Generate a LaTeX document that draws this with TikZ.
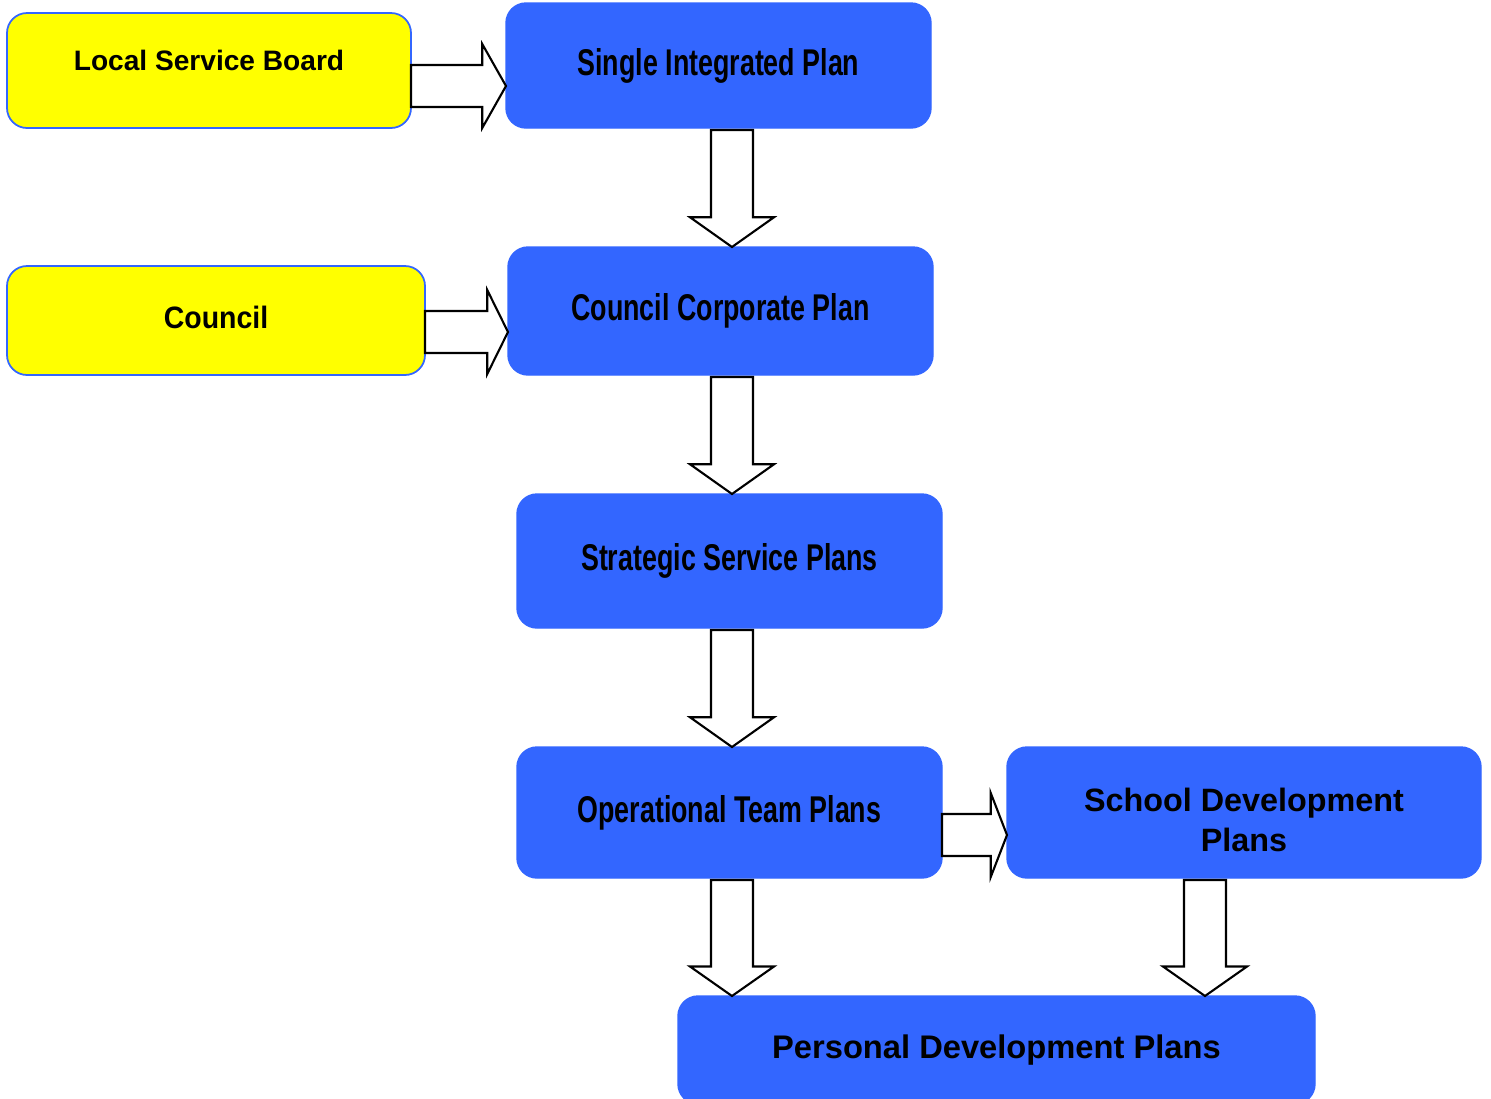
\documentclass[tikz,border=0pt]{standalone}
\usepackage{fontspec}
\setmainfont{Liberation Sans}
\newfontfamily\narrowfont[FakeStretch=0.72]{Liberation Sans}
\newfontfamily\snugfont[FakeStretch=0.92]{Liberation Sans}
\usetikzlibrary{positioning,calc}

\definecolor{planblue}{HTML}{3366FF}
\definecolor{boardyellow}{HTML}{FFFF00}

\tikzset{
  planbox/.style={rectangle, rounded corners=0.2cm, fill=planblue, draw=planblue,
    inner sep=0pt, outer sep=0pt, align=center, text=black},
  boardbox/.style={planbox, fill=boardyellow, line width=0.5pt},
  narrowtext/.style={font=\narrowfont\bfseries\fontsize{10.6}{12}\selectfont},
  blockarrow/.style={draw=black, fill=white, line width=0.6pt, line join=miter}
}

% block arrow pointing right: from node, to node, y of tip
\newcommand{\harrow}[3]{%
  \draw[blockarrow] let \p1=(#1.east), \p2=(#2.west), \n1={0.25*(\x2-\x1)} in
    (\x1,#3cm+0.21cm) -- (\x2-\n1,#3cm+0.21cm) -- (\x2-\n1,#3cm+0.42cm)
    -- (\x2,#3cm) -- (\x2-\n1,#3cm-0.42cm) -- (\x2-\n1,#3cm-0.21cm)
    -- (\x1,#3cm-0.21cm) -- cycle;}
% block arrow pointing down: from node, to node, x of arrow
\newcommand{\varrow}[3]{%
  \draw[blockarrow] let \p1=(#1.south), \p2=(#2.north), \n1={0.25*(\y1-\y2)} in
    (#3cm-0.21cm,\y1-0.02cm) -- (#3cm-0.21cm,\y2+\n1) -- (#3cm-0.42cm,\y2+\n1)
    -- (#3cm,\y2) -- (#3cm+0.42cm,\y2+\n1) -- (#3cm+0.21cm,\y2+\n1)
    -- (#3cm+0.21cm,\y1-0.02cm) -- cycle;}

\begin{document}
\begin{tikzpicture}
\useasboundingbox (0,0) rectangle (14.91,-10.99);

% boxes
\node[planbox, narrowtext, minimum width=4.25cm, minimum height=1.25cm] (sip) at (7.185,-0.655) {Single Integrated Plan};
\node[boardbox, minimum width=4.04cm, minimum height=1.15cm, text depth=6pt,
  font=\bfseries\fontsize{8}{10}\selectfont, left=0.95cm of sip, yshift=-0.05cm] (lsb) {Local Service Board};
\node[planbox, narrowtext, minimum width=4.25cm, minimum height=1.28cm,
  below=1.19cm of sip, xshift=0.02cm] (ccp) {Council Corporate Plan};
\node[boardbox, minimum width=4.18cm, minimum height=1.09cm, text depth=2pt,
  font=\snugfont\bfseries\fontsize{8.8}{10}\selectfont, left=0.83cm of ccp, yshift=-0.095cm] (council) {Council};
\node[planbox, narrowtext, minimum width=4.25cm, minimum height=1.34cm,
  below=1.19cm of ccp, xshift=0.09cm] (ssp) {Strategic Service Plans};
\node[planbox, narrowtext, minimum width=4.25cm, minimum height=1.31cm,
  below=1.19cm of ssp] (otp) {Operational Team Plans};
\node[planbox, minimum width=4.74cm, minimum height=1.31cm,
  font=\bfseries\fontsize{9.2}{11.4}\selectfont, right=0.65cm of otp] (sdp) {\rule{0pt}{10.7pt}School Development\\Plans};
\node[planbox, minimum width=6.37cm, minimum height=1.08cm,
  font=\bfseries\fontsize{9.3}{11}\selectfont, below=1.18cm of otp.south west,
  anchor=north west, xshift=1.61cm] (pdp) {Personal Development Plans};

% arrows
\harrow{lsb}{sip}{-0.86}
\harrow{council}{ccp}{-3.32}
\harrow{otp}{sdp}{-8.35}
\varrow{sip}{ccp}{7.32}
\varrow{ccp}{ssp}{7.32}
\varrow{ssp}{otp}{7.32}
\varrow{otp}{pdp}{7.32}
\varrow{sdp}{pdp}{12.05}
\end{tikzpicture}
\end{document}
